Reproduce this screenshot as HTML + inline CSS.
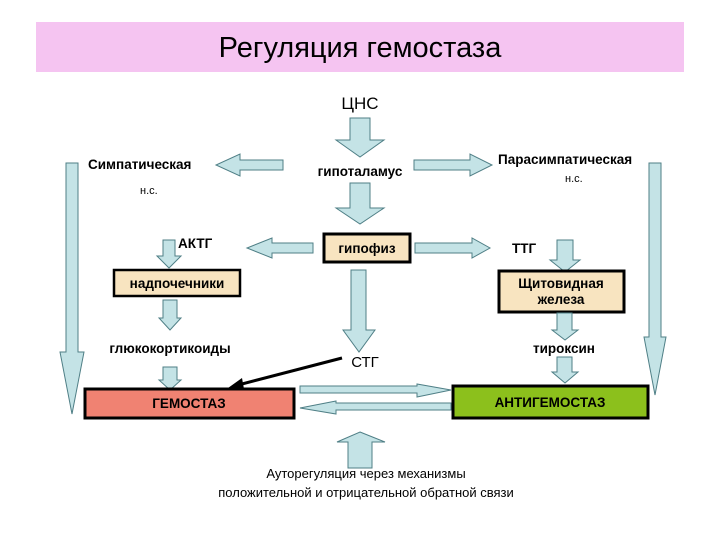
<!DOCTYPE html>
<html><head><meta charset="utf-8"><style>
body{margin:0;background:#fff}
text{font-family:"Liberation Sans",sans-serif}
.a{fill:#c4e3e6;stroke:#4f7f86;stroke-width:1}
.b{font-weight:bold;font-size:13.5px}
</style></head><body>
<svg width="720" height="540" xmlns="http://www.w3.org/2000/svg">
<rect x="36" y="22" width="648" height="50" fill="#f5c4f1"/>
<text x="360" y="57" font-size="29" text-anchor="middle" font-weight="300">Регуляция гемостаза</text>
<text x="360" y="109" font-size="17" text-anchor="middle">ЦНС</text>
<polygon class="a" points="350,118 370,118 370,140 384,140 360,157 336,140 350,140"/>
<text x="360" y="176" class="b" font-size="14" text-anchor="middle">гипоталамус</text>
<polygon class="a" points="283,160 283,170 240,170 240,176 216,165 240,154 240,160"/>
<polygon class="a" points="414,160 414,170 470,170 470,176 492,165 470,154 470,160"/>
<text x="88" y="169" class="b" font-size="14">Симпатическая</text>
<text x="140" y="194" font-size="11">н.с.</text>
<text x="498" y="164" class="b" font-size="14">Парасимпатическая</text>
<text x="565" y="182" font-size="11">н.с.</text>
<polygon class="a" points="66,163 78,163 78,352 84,352 72,414 60,352 66,352"/>
<polygon class="a" points="649,163 661,163 661,337 666,337 655,395 644,337 649,337"/>
<polygon class="a" points="350,183 370,183 370,208 384,208 360,224 336,208 350,208"/>
<rect x="324" y="234" width="86" height="28" fill="#f8e4c0" stroke="#000" stroke-width="3"/>
<text x="367" y="253" class="b" text-anchor="middle">гипофиз</text>
<polygon class="a" points="313,243 313,253 272,253 272,258 247,248 272,238 272,243"/>
<polygon class="a" points="415,243 415,253 472,253 472,258 490,248 472,238 472,243"/>
<text x="178" y="248" class="b" font-size="15">АКТГ</text>
<text x="512" y="253" class="b" font-size="15">ТТГ</text>
<polygon class="a" points="163,240 175,240 175,256 181,256 169,268 157,256 163,256"/>
<rect x="114" y="270" width="126" height="26" fill="#f8e4c0" stroke="#000" stroke-width="2.5"/>
<text x="177" y="288" class="b" text-anchor="middle">надпочечники</text>
<polygon class="a" points="163,300 177,300 177,318 181,318 170,330 159,318 163,318"/>
<text x="170" y="353" class="b" text-anchor="middle">глюкокортикоиды</text>
<polygon class="a" points="163,367 177,367 177,380 181,380 170,390 159,380 163,380"/>
<rect x="85" y="389" width="209" height="29" fill="#f08272" stroke="#000" stroke-width="3"/>
<text x="189" y="408" class="b" text-anchor="middle">ГЕМОСТАЗ</text>
<polygon class="a" points="351,270 366,270 366,330 375,330 359,352 343,330 351,330"/>
<text x="365" y="367" font-size="15" text-anchor="middle">СТГ</text>
<line x1="342" y1="358" x2="238" y2="385" stroke="#000" stroke-width="3"/>
<polygon points="228,388 242,378 244,389" fill="#000"/>
<polygon class="a" points="557,240 573,240 573,260 580,260 565,272 550,260 557,260"/>
<rect x="499" y="271" width="125" height="41" fill="#f8e4c0" stroke="#000" stroke-width="3"/>
<text x="561" y="288" class="b" text-anchor="middle">Щитовидная</text>
<text x="561" y="304" class="b" text-anchor="middle">железа</text>
<polygon class="a" points="557,313 572,313 572,330 578,330 565,340 552,330 557,330"/>
<text x="564" y="353" class="b" text-anchor="middle">тироксин</text>
<polygon class="a" points="557,357 572,357 572,372 578,372 565,383 552,372 557,372"/>
<rect x="453" y="386" width="195" height="32" fill="#8cc01c" stroke="#000" stroke-width="3"/>
<text x="550" y="407" class="b" text-anchor="middle">АНТИГЕМОСТАЗ</text>
<polygon class="a" points="300,386 417,386 417,384 451,390 417,397 417,393 300,393"/>
<polygon class="a" points="451,403 451,410 336,410 336,414 300,408 336,401 336,403"/>
<polygon class="a" points="360,432 385,442 372,442 372,468 348,468 348,442 337,442"/>
<text x="366" y="478" font-size="13" text-anchor="middle">Ауторегуляция через механизмы</text>
<text x="366" y="497" font-size="13" text-anchor="middle">положительной и отрицательной обратной связи</text>
</svg>
</body></html>
